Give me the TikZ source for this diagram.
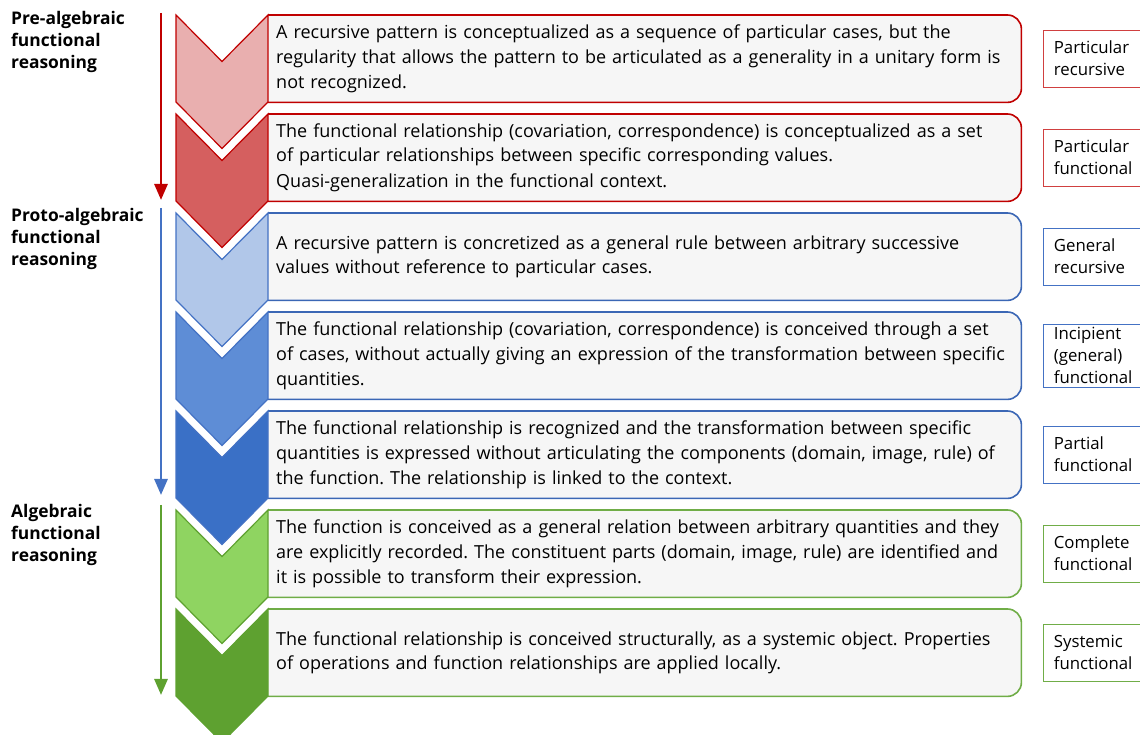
\documentclass[tikz,border=0pt]{standalone}
\usepackage{fontspec}
\setmainfont{Open Sans}
\usetikzlibrary{positioning, arrows.meta, backgrounds}
\frenchspacing
\hyphenpenalty=10000

\definecolor{redline}{HTML}{C00000}
\definecolor{blueline}{HTML}{4472C4}
\definecolor{boxblue}{HTML}{3B67B5}
\definecolor{greenline}{HTML}{70AD47}
\definecolor{redA}{HTML}{E9AFAF}
\definecolor{redB}{HTML}{D55F5F}
\definecolor{blueA}{HTML}{B1C7E9}
\definecolor{blueB}{HTML}{5E8DD6}
\definecolor{blueC}{HTML}{3A70C6}
\definecolor{greenA}{HTML}{8FD461}
\definecolor{greenB}{HTML}{5EA130}
\definecolor{boxfill}{HTML}{F6F6F6}

\tikzstyle{textbox} = [rectangle, minimum width=753pt, minimum height=87pt,
    text width=737pt, inner xsep=8pt, inner ysep=0pt, align=left,
    font=\fontsize{18}{24.6}\selectfont]
\tikzstyle{frame} = [fill=boxfill, line width=1.6pt, rounded corners=14pt]
\tikzstyle{chevron} = [line width=1.2pt, line join=miter]
\tikzstyle{level} = [rectangle, draw, line width=0.9pt, minimum width=110pt,
    minimum height=57pt, text width=90pt, inner xsep=10pt, align=left,
    font=\fontsize{16.8}{22}\selectfont]
\tikzstyle{stage} = [anchor=north west, inner sep=0pt, align=left,
    font=\bfseries\fontsize{17.4}{22}\selectfont]
\tikzstyle{arrow} = [line width=2.8pt, -{Triangle[width=13pt,length=16pt]}]

\begin{document}
\begin{tikzpicture}[x=1pt, y=1pt]
\useasboundingbox (0,0) rectangle (1140,735);

% Descriptions
\node (b1) [textbox, anchor=north west] at (268,720) {A recursive pattern is conceptualized as a sequence of particular cases, but the\\regularity that allows the pattern to be articulated as a generality in a unitary form is\\not recognized.};
\node (b2) [textbox, below=11.6pt of b1] {The functional relationship (covariation, correspondence) is conceptualized as a set\\of particular relationships between specific corresponding values.\\[1.5pt]Quasi-generalization in the functional context.};
\node (b3) [textbox, below=11.6pt of b2] {A recursive pattern is concretized as a general rule between arbitrary successive\\values without reference to particular cases.};
\node (b4) [textbox, below=11.6pt of b3] {The functional relationship (covariation, correspondence) is conceived through a set\\of cases, without actually giving an expression of the transformation between specific\\quantities.};
\node (b5) [textbox, below=11.6pt of b4] {The functional relationship is recognized and the transformation between specific\\quantities is expressed without articulating the components (domain, image, rule) of\\the function. The relationship is linked to the context.};
\node (b6) [textbox, below=11.6pt of b5] {The function is conceived as a general relation between arbitrary quantities and they\\are explicitly recorded. The constituent parts (domain, image, rule) are identified and\\it is possible to transform their expression.};
\node (b7) [textbox, below=11.6pt of b6] {The functional relationship is conceived structurally, as a systemic object. Properties\\of operations and function relationships are applied locally.};

% Frames behind the descriptions (square on the left)
\begin{scope}[on background layer]
\filldraw [frame, draw=redline] (b1.north west) -- (b1.north east) -- (b1.south east) -- (b1.south west);
\filldraw [frame, draw=redline] (b2.north west) -- (b2.north east) -- (b2.south east) -- (b2.south west);
\filldraw [frame, draw=boxblue] (b3.north west) -- (b3.north east) -- (b3.south east) -- (b3.south west);
\filldraw [frame, draw=boxblue] (b4.north west) -- (b4.north east) -- (b4.south east) -- (b4.south west);
\filldraw [frame, draw=boxblue] (b5.north west) -- (b5.north east) -- (b5.south east) -- (b5.south west);
\filldraw [frame, draw=greenline] (b6.north west) -- (b6.north east) -- (b6.south east) -- (b6.south west);
\filldraw [frame, draw=greenline] (b7.north west) -- (b7.north east) -- (b7.south east) -- (b7.south west);
\end{scope}

% Chevrons
\draw [chevron, fill=redA, draw=redline] (b1.north west) -- ++(-46,-46.5) -- ++(-46,46.5) -- ++(0,-87) -- ++(46,-46.5) -- ++(46,46.5) -- cycle;
\draw [chevron, fill=redB, draw=redline] (b2.north west) -- ++(-46,-46.5) -- ++(-46,46.5) -- ++(0,-87) -- ++(46,-46.5) -- ++(46,46.5) -- cycle;
\draw [chevron, fill=blueA, draw=blueline] (b3.north west) -- ++(-46,-46.5) -- ++(-46,46.5) -- ++(0,-87) -- ++(46,-46.5) -- ++(46,46.5) -- cycle;
\draw [chevron, fill=blueB, draw=blueline] (b4.north west) -- ++(-46,-46.5) -- ++(-46,46.5) -- ++(0,-87) -- ++(46,-46.5) -- ++(46,46.5) -- cycle;
\draw [chevron, fill=blueC, draw=blueline] (b5.north west) -- ++(-46,-46.5) -- ++(-46,46.5) -- ++(0,-87) -- ++(46,-46.5) -- ++(46,46.5) -- cycle;
\draw [chevron, fill=greenA, draw=greenB] (b6.north west) -- ++(-46,-46.5) -- ++(-46,46.5) -- ++(0,-87) -- ++(46,-46.5) -- ++(46,46.5) -- cycle;
\draw [chevron, fill=greenB, draw=greenB] (b7.north west) -- ++(-46,-46.5) -- ++(-46,46.5) -- ++(0,-87) -- ++(46,-46.5) -- ++(46,46.5) -- cycle;

% Levels
\node (l1) [level, draw=redline!75, right=22pt of b1] {Particular\\recursive};
\node (l2) [level, draw=redline!75, right=22pt of b2] {Particular\\functional};
\node (l3) [level, draw=blueline, right=22pt of b3] {General\\recursive};
\node (l4) [level, draw=blueline, right=22pt of b4] {Incipient\\(general)\\functional};
\node (l5) [level, draw=blueline, right=22pt of b5] {Partial\\functional};
\node (l6) [level, draw=greenline, right=22pt of b6] {Complete\\functional};
\node (l7) [level, draw=greenline, right=22pt of b7] {Systemic\\functional};

% Stages
\node (s1) [stage] at (11,724) {Pre-algebraic\\functional\\reasoning};
\node (s2) [stage] at (11,527) {Proto-algebraic\\functional\\reasoning};
\node (s3) [stage] at (11,231) {Algebraic\\functional\\reasoning};

% Arrows
\coordinate (r1) at (161,722);
\coordinate (r2) at (161,535);
\coordinate (u1) at (161,527);
\coordinate (u2) at (161,240);
\coordinate (g1) at (161,230);
\coordinate (g2) at (161,40);
\draw [arrow, redline] (r1) -- (r2);
\draw [arrow, blueline] (u1) -- (u2);
\draw [arrow, greenB] (g1) -- (g2);

\end{tikzpicture}
\end{document}
